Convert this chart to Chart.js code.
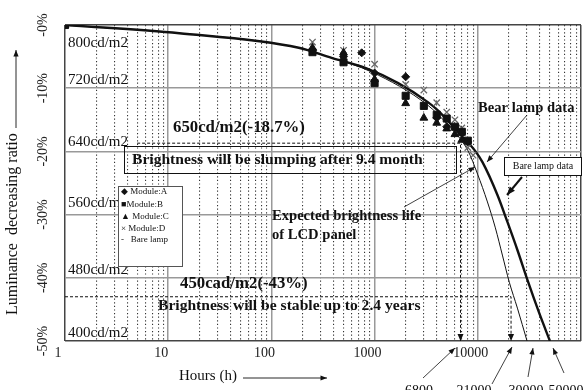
<!DOCTYPE html>
<html>
<head>
<meta charset="utf-8">
<script src="https://cdn.jsdelivr.net/npm/chart.js@4.4.0/dist/chart.umd.min.js"></script>
<style>
  body { margin: 0; background: #fff; }
  #wrap { width: 587px; height: 390px; }
</style>
</head>
<body>
<div id="wrap"><canvas id="lifeChart" width="587" height="390"></canvas></div>
<script>
// hours / luminance decreasing ratio (%)
const bareHours = [1, 12.8, 184, 383, 812, 1690, 3280, 4100, 6390, 9300, 11100, 15500, 19400, 24200, 30200, 39400, 50000]
const bareRatio = [0, -1.3, -3.6, -5.2, -6.8, -9.2, -12.2, -13.5, -16.9, -19.8, -21.7, -26.9, -31.2, -35.6, -40.3, -45.6, -50]

const lcdHours = [1, 12.8, 184, 383, 927, 3280, 5120, 7980, 9950, 12400, 14800, 17300, 20200, 24200, 30000]
const lcdRatio = [0, -1.3, -3.6, -5.2, -7.4, -12.7, -15.8, -19.8, -23.6, -28.0, -32.1, -36.4, -40.7, -44.8, -50]

const moduleAHours = [1, 250, 500, 750, 1000, 2000, 4000, 5000, 7000, 8000]
const moduleARatio = [0, -4.0, -5.0, -4.4, -7.6, -8.2, -14.7, -16.1, -17.1, -18.5]
const moduleBHours = [1, 250, 500, 1000, 2000, 3000, 4000, 5000, 6000, 7000, 8000]
const moduleBRatio = [0, -4.3, -5.9, -9.2, -11.2, -12.8, -14.2, -14.8, -16.1, -16.9, -18.3]
const moduleCHours = [1, 250, 500, 1000, 2000, 3000, 4000, 5000, 6000, 7000]
const moduleCRatio = [0, -3.6, -4.4, -8.6, -12.4, -14.7, -15.5, -16.4, -17.3, -18.2]
const moduleDHours = [1, 250, 500, 1000, 2000, 3000, 4000, 5000, 6000, 7000, 8000, 9000]
const moduleDRatio = [0, -2.7, -4.0, -6.2, -9.4, -10.3, -12.3, -13.8, -15.0, -16.3, -19.4, -20.6]

// reference levels
const slumpHours = [5, 6800, 6800]
const slumpRatio = [-18.7, -18.7, -50]
const stableHours = [1, 21000, 21000]
const stableRatio = [-43, -43, -50]

const xTicks = [1, 2, 3, 4, 5, 6, 7, 8, 9, 10, 20, 30, 40, 50, 60, 70, 80, 90,
  100, 200, 300, 400, 500, 600, 700, 800, 900, 1000, 2000, 3000, 4000, 5000, 6000, 7000, 8000, 9000,
  10000, 20000, 30000, 40000, 50000, 60000, 70000, 80000, 90000, 100000]

const lumLabels = ['800cd/m2', '720cd/m2', '640cd/m2', '560cd/m2', '480cd/m2', '400cd/m2']
const legendLabels = ['\u25C6 Module:A', '\u25A0Module:B', '\u25B2 Module:C', '\u00D7 Module:D', '-   Bare lamp']
const lifeLabels = ['6800', '21000', '30000', '50000']

const SERIF = '"Liberation Serif", "DejaVu Serif", serif'

function pts(xs, ys) {
  return xs.map((x, i) => ({ x, y: ys[i] }))
}

function isDecade(v) {
  const l = Math.log10(v)
  return Math.abs(l - Math.round(l)) < 1e-9
}

function arrow(ctx, x1, y1, x2, y2, w, head) {
  ctx.lineWidth = w
  ctx.beginPath()
  ctx.moveTo(x1, y1)
  ctx.lineTo(x2, y2)
  ctx.stroke()
  const ang = Math.atan2(y2 - y1, x2 - x1)
  ctx.beginPath()
  ctx.moveTo(x2, y2)
  ctx.lineTo(x2 - head * Math.cos(ang - 0.38), y2 - head * Math.sin(ang - 0.38))
  ctx.lineTo(x2 - head * Math.cos(ang + 0.38), y2 - head * Math.sin(ang + 0.38))
  ctx.closePath()
  ctx.fill()
}

function text(ctx, s, x, y, size, bold, align) {
  ctx.font = (bold ? 'bold ' : '') + size + 'px ' + SERIF
  ctx.textAlign = align || 'left'
  ctx.textBaseline = 'middle'
  ctx.fillText(s, x, y)
}

// all the drawn notes, boxes and arrows round the plot
const notesPlugin = {
  id: 'notes',
  afterDraw(chart) {
    const { ctx, scales: { x, y } } = chart
    ctx.save()
    ctx.fillStyle = '#111'
    ctx.strokeStyle = '#111'

    const lumY = [43, 80, 142, 203, 270, 333]
    lumLabels.forEach((s, i) => text(ctx, s, 68, lumY[i], 15, false))

    text(ctx, '650cd/m2(-18.7%)', 173, 128, 16.8, true)
    ctx.lineWidth = 1
    ctx.strokeRect(124.5, 146.5, 332, 27)
    text(ctx, 'Brightness will be slumping after 9.4 month', 132, 160, 15.6, true)

    text(ctx, 'Expected brightness life', 272, 216, 14.6, true)
    text(ctx, 'of LCD panel', 272, 235, 14.6, true)
    arrow(ctx, 404, 207, 475, 167, 0.8, 7)

    text(ctx, 'Bear lamp data', 478, 108, 14.6, true)
    arrow(ctx, 527, 115, 487, 162, 0.8, 7)

    ctx.fillStyle = '#fff'
    ctx.fillRect(504.5, 157.5, 77, 18)
    ctx.fillStyle = '#111'
    ctx.lineWidth = 1
    ctx.strokeRect(504.5, 157.5, 77, 18)
    text(ctx, 'Bare lamp data', 543, 166.5, 10, false, 'center')
    arrow(ctx, 522, 177, 507, 195, 2, 9)

    text(ctx, '450cad/m2(-43%)', 180, 284, 16.8, true)
    text(ctx, 'Brightness will be stable up to 2.4 years', 158, 306, 15.6, true)

    // arrow tips on the reference lines
    const tip = (h) => {
      const px = x.getPixelForValue(h), py = y.getPixelForValue(-50)
      ctx.beginPath()
      ctx.moveTo(px, py)
      ctx.lineTo(px - 3, py - 7)
      ctx.lineTo(px + 3, py - 7)
      ctx.closePath()
      ctx.fill()
    }
    tip(6800)
    tip(21000)

    // legend
    ctx.fillStyle = '#fff'
    ctx.fillRect(118.5, 186.5, 64, 80)
    ctx.fillStyle = '#111'
    ctx.lineWidth = 1
    ctx.strokeStyle = '#555'
    ctx.strokeRect(118.5, 186.5, 64, 80)
    ctx.strokeStyle = '#111'
    const legY = [192, 205, 217, 228.5, 240]
    legendLabels.forEach((s, i) => text(ctx, s, 121, legY[i], 9, false))

    // life values under the axis
    const lifeX = [419, 474, 526, 566]
    lifeLabels.forEach((s, i) => text(ctx, s, lifeX[i], 391, 14, false, 'center'))
    arrow(ctx, 423, 378, 455, 348, 0.8, 7)
    arrow(ctx, 492, 384, 512, 347, 0.8, 7)
    arrow(ctx, 528, 377, 533, 348, 0.8, 7)
    arrow(ctx, 564, 373, 553, 348, 0.8, 7)

    // axis titles
    text(ctx, 'Hours (h)', 179, 376, 15, false)
    arrow(ctx, 243, 378, 327, 378, 0.9, 7)

    ctx.save()
    ctx.translate(13, 315)
    ctx.rotate(-Math.PI / 2)
    text(ctx, 'Luminance  decreasing ratio', 0, 0, 16, false)
    ctx.restore()
    arrow(ctx, 16, 128, 16, 50, 0.9, 7)

    ctx.restore()
  },
}

const lineStyle = { showLine: true, pointRadius: 0, borderColor: '#111', backgroundColor: '#111' }

new Chart(document.getElementById('lifeChart').getContext('2d'), {
  type: 'scatter',
  data: {
    datasets: [
      { label: 'Module:A', data: pts(moduleAHours, moduleARatio), pointStyle: 'rectRot', pointRadius: 4, backgroundColor: '#111', borderColor: '#111' },
      { label: 'Module:B', data: pts(moduleBHours, moduleBRatio), pointStyle: 'rect', pointRadius: 5, backgroundColor: '#111', borderColor: '#111' },
      { label: 'Module:C', data: pts(moduleCHours, moduleCRatio), pointStyle: 'triangle', pointRadius: 4.5, backgroundColor: '#111', borderColor: '#111' },
      { label: 'Module:D', data: pts(moduleDHours, moduleDRatio), pointStyle: 'crossRot', pointRadius: 4.5, borderWidth: 1.3, borderColor: '#666' },
      { label: 'Bare lamp', data: pts(bareHours, bareRatio), ...lineStyle, borderWidth: 2.4, cubicInterpolationMode: 'monotone' },
      { label: 'LCD panel', data: pts(lcdHours, lcdRatio), ...lineStyle, borderWidth: 1, cubicInterpolationMode: 'monotone' },
      { label: 'slump', data: pts(slumpHours, slumpRatio), ...lineStyle, borderWidth: 1, borderDash: [3, 2] },
      { label: 'stable', data: pts(stableHours, stableRatio), ...lineStyle, borderWidth: 1, borderDash: [3, 2] },
    ],
  },
  options: {
    responsive: false,
    animation: false,
    layout: { padding: { top: 25, right: 3, left: 0, bottom: 0 } },
    scales: {
      x: {
        type: 'logarithmic',
        min: 1,
        max: 100000,
        afterBuildTicks: (scale) => { scale.ticks = xTicks.map((v) => ({ value: v })) },
        afterFit: (scale) => { scale.height = 49 },
        ticks: {
          autoSkip: false,
          maxRotation: 0,
          padding: 4,
          labelOffset: -7,
          color: '#222',
          font: { family: SERIF, size: 14 },
          callback: (v) => (isDecade(v) && v < 100000 ? String(v) : ''),
        },
        grid: {
          drawTicks: false,
          color: (c) => {
            const v = c.tick ? c.tick.value : 0
            if (v === 1 || v === 100000) return '#444'
            return isDecade(v) ? '#999' : '#333'
          },
          lineWidth: (c) => (c.tick && !isDecade(c.tick.value) ? 1.1 : 1.5),
        },
        border: {
          display: false,
          dash: (c) => (c.tick && !isDecade(c.tick.value) ? [1.2, 2.4] : []),
        },
      },
      y: {
        min: -50,
        max: 0,
        afterFit: (scale) => { scale.width = 65 },
        ticks: {
          stepSize: 10,
          minRotation: 90,
          maxRotation: 90,
          crossAlign: 'center',
          padding: 7,
          color: '#222',
          font: { family: SERIF, size: 14 },
          callback: (v) => (v === 0 ? '-0' : v) + '%',
        },
        grid: {
          drawTicks: false,
          color: (c) => (c.tick && (c.tick.value === 0 || c.tick.value === -50) ? '#444' : '#999'),
          lineWidth: 1.5,
        },
        border: { display: false },
      },
    },
    plugins: {
      legend: { display: false },
      tooltip: { enabled: false },
    },
  },
  plugins: [notesPlugin],
})
</script>
</body>
</html>
